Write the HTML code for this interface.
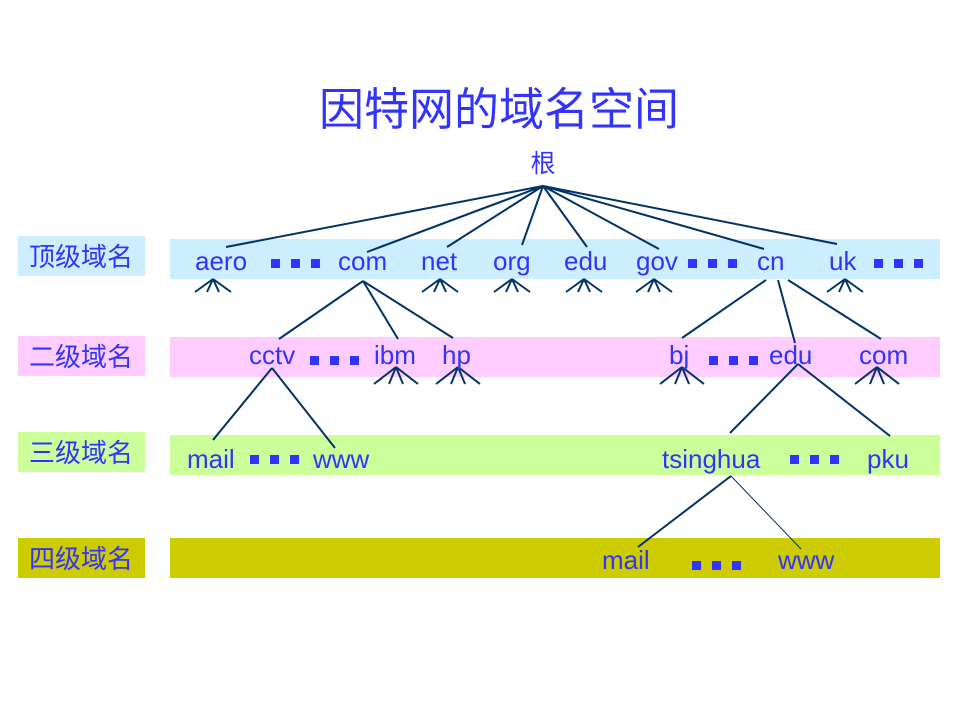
<!DOCTYPE html>
<html><head><meta charset="utf-8"><style>
html,body{margin:0;padding:0;background:#fff;}
svg{display:block}
text{font-family:"Liberation Sans","Noto Sans CJK SC",sans-serif;fill:#3333ff;}
</style></head><body>
<svg width="960" height="720" viewBox="0 0 960 720" xmlns="http://www.w3.org/2000/svg">
<text x="499" y="125" font-size="45" text-anchor="middle">因特网的域名空间</text>
<text x="543" y="172" font-size="25" text-anchor="middle">根</text>
<rect x="170" y="239" width="770" height="40" fill="#cceeff"/>
<rect x="170" y="337" width="770" height="40" fill="#ffccff"/>
<rect x="170" y="435" width="770" height="40" fill="#ccff99"/>
<rect x="170" y="538" width="770" height="40" fill="#cccc00"/>
<rect x="18" y="236" width="127" height="40" fill="#cceeff"/>
<rect x="18" y="336" width="127" height="40" fill="#ffccff"/>
<rect x="18" y="432" width="127" height="40" fill="#ccff99"/>
<rect x="18" y="538" width="127" height="40" fill="#cccc00"/>
<g font-size="26" text-anchor="middle">
<text x="81" y="266">顶级域名</text>
<text x="81" y="366">二级域名</text>
<text x="81" y="462">三级域名</text>
<text x="81" y="568">四级域名</text>
</g>
<g stroke="#003366" stroke-width="2" fill="none">
<path d="M543 186L226 247M543 186L367 252M543 186L447 247M543 186L522 245M543 186L587 247M543 186L659 249M543 186L764 249M543 186L837 244"/>
<path d="M363 281L279 339M363 281L398 339M363 281L453 338"/>
<path d="M766 280L682 338M778 280L795 343M788 280L881 339"/>
<path d="M272 368L213 440M272 368L335 448"/>
<path d="M798 364L730 433M798 364L890 436"/>
<path d="M731 476L638 547"/>
</g>
<path d="M731 476L801 549" stroke="#003366" stroke-width="1" fill="none"/>
<g stroke="#003366" stroke-width="2" fill="none">
<path d="M213 279l-18 13M213 279l-6 13M213 279l6 13M213 279l18 13"/>
<path d="M440 279l-18 13M440 279l-6 13M440 279l6 13M440 279l18 13"/>
<path d="M512 279l-18 13M512 279l-6 13M512 279l6 13M512 279l18 13"/>
<path d="M584 279l-18 13M584 279l-6 13M584 279l6 13M584 279l18 13"/>
<path d="M654 279l-18 13M654 279l-6 13M654 279l6 13M654 279l18 13"/>
<path d="M845 279l-18 13M845 279l-6 13M845 279l6 13M845 279l18 13"/>
<path d="M396 367l-22 17M396 367l-7 17M396 367l7 17M396 367l22 17"/>
<path d="M458 367l-22 17M458 367l-7 17M458 367l7 17M458 367l22 17"/>
<path d="M682 367l-22 17M682 367l-7 17M682 367l7 17M682 367l22 17"/>
<path d="M877 367l-22 17M877 367l-7 17M877 367l7 17M877 367l22 17"/>
</g>
<g font-size="26">
<text x="195" y="270">aero</text>
<text x="338" y="270">com</text>
<text x="421" y="270">net</text>
<text x="493" y="270">org</text>
<text x="564" y="270">edu</text>
<text x="636" y="270">gov</text>
<text x="757" y="270">cn</text>
<text x="829" y="270">uk</text>
<text x="249" y="364">cctv</text>
<text x="374" y="364">ibm</text>
<text x="442" y="364">hp</text>
<text x="669" y="364">bj</text>
<text x="769" y="364">edu</text>
<text x="859" y="364">com</text>
<text x="187" y="468">mail</text>
<text x="313" y="468">www</text>
<text x="662" y="468">tsinghua</text>
<text x="867" y="468">pku</text>
<text x="602" y="569">mail</text>
<text x="778" y="569">www</text>
</g>
<g fill="#3333ff">
<rect x="271" y="259" width="9" height="9"/><rect x="291" y="259" width="9" height="9"/><rect x="311" y="259" width="9" height="9"/>
<rect x="688" y="259" width="9" height="9"/><rect x="708" y="259" width="9" height="9"/><rect x="728" y="259" width="9" height="9"/>
<rect x="874" y="259" width="9" height="9"/><rect x="894" y="259" width="9" height="9"/><rect x="914" y="259" width="9" height="9"/>
<rect x="310" y="356" width="9" height="9"/><rect x="330" y="356" width="9" height="9"/><rect x="350" y="356" width="9" height="9"/>
<rect x="709" y="356" width="9" height="9"/><rect x="729" y="356" width="9" height="9"/><rect x="749" y="356" width="9" height="9"/>
<rect x="250" y="455" width="9" height="9"/><rect x="270" y="455" width="9" height="9"/><rect x="290" y="455" width="9" height="9"/>
<rect x="790" y="455" width="9" height="9"/><rect x="810" y="455" width="9" height="9"/><rect x="830" y="455" width="9" height="9"/>
<rect x="692" y="561" width="9" height="9"/><rect x="712" y="561" width="9" height="9"/><rect x="732" y="561" width="9" height="9"/>
</g>
</svg>
</body></html>
